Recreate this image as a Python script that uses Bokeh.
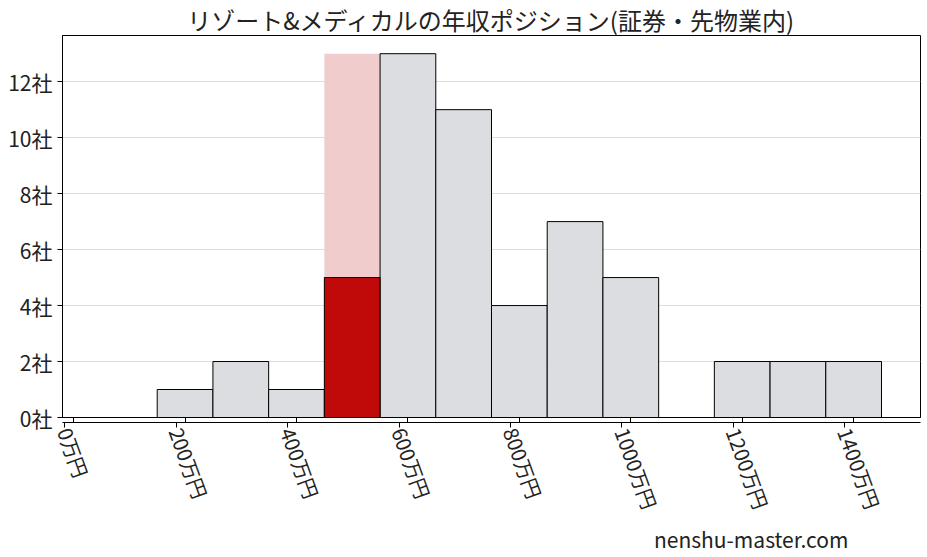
import math
from bokeh.plotting import figure
from bokeh.models import FixedTicker, Title, LinearAxis
from bokeh.embed import file_html
from bokeh.resources import INLINE

# 年収の階級（中央値, 万円）と企業数
bin_centers = [200, 300, 400, 500, 600, 700, 800, 900, 1000, 1100, 1200, 1300, 1400]
counts = [1, 2, 1, 5, 13, 11, 4, 7, 5, 0, 2, 2, 2]
bin_width = 100

# この会社の位置
highlight_center = 500
highlight_top = 13

x_ticks = [0, 200, 400, 600, 800, 1000, 1200, 1400]
y_ticks = [0, 2, 4, 6, 8, 10, 12]

title = "リゾート&メディカルの年収ポジション(証券・先物業内)"
watermark = "nenshu-master.com"
font = "Noto Sans CJK JP"

# 回転ラベルを目盛りの中央に寄せるためのずらし量（データ単位）
label_shift = -16

p = figure(width=922, height=555, output_backend="svg", toolbar_location=None,
           x_range=(-20, 1520), y_range=(0, 13.65), title=title,
           min_border_left=62, min_border_right=2, min_border_top=0,
           min_border_bottom=138)

p.title.text_font = font
p.title.text_font_size = "24px"
p.title.text_font_style = "normal"
p.title.align = "center"
p.title.text_color = "#222222"
p.title.standoff = -2

p.xgrid.grid_line_color = None
p.ygrid.grid_line_color = "#dddddd"
p.ygrid.ticker = FixedTicker(ticks=y_ticks)

p.outline_line_color = "black"
p.outline_line_alpha = 1.0

# 背景のハイライト
p.vbar(x=[highlight_center], width=bin_width, top=[highlight_top], bottom=0,
       fill_color="#f0cccc", line_color=None)

gray_x = [c for c, n in zip(bin_centers, counts) if c != highlight_center and n > 0]
gray_n = [n for c, n in zip(bin_centers, counts) if c != highlight_center and n > 0]
p.vbar(x=gray_x, width=bin_width, top=gray_n, bottom=0,
       fill_color="#dcdde0", line_color="black", line_width=1)

red_n = [n for c, n in zip(bin_centers, counts) if c == highlight_center]
p.vbar(x=[highlight_center], width=bin_width, top=red_n, bottom=0,
       fill_color="#c00a0a", line_color="black", line_width=1)

# 目盛り線だけの軸
p.xaxis.ticker = FixedTicker(ticks=x_ticks)
p.xaxis.major_label_overrides = {t: "" for t in x_ticks}
p.xaxis.major_label_text_font_size = "2px"
p.xaxis.major_label_standoff = 0

# ラベルだけの軸
lab_ticks = [t + label_shift for t in x_ticks]
xlab = LinearAxis(ticker=FixedTicker(ticks=lab_ticks),
                  major_label_overrides={s: f"{t}万円" for s, t in zip(lab_ticks, x_ticks)},
                  major_label_orientation=-70 * math.pi / 180,
                  major_label_standoff=1, major_label_text_font=font,
                  major_label_text_font_size="20px", major_label_text_color="#222222",
                  axis_line_color=None, major_tick_line_color=None,
                  minor_tick_line_color=None, major_tick_in=0, major_tick_out=0)
p.add_layout(xlab, "below")

p.yaxis.ticker = FixedTicker(ticks=y_ticks)
p.yaxis.major_label_overrides = {t: f"{t}社" for t in y_ticks}
p.yaxis.major_label_text_font = font
p.yaxis.major_label_text_font_size = "21px"
p.yaxis.major_label_text_color = "#222222"

for ax in (p.xaxis, p.yaxis):
    ax.axis_line_color = "black"
    ax.major_tick_line_color = "black"
    ax.major_tick_in = 0
    ax.major_tick_out = 5
    ax.minor_tick_line_color = None

p.add_layout(Title(text=watermark, align="right", offset=72, text_font=font,
                   text_font_size="21px", text_font_style="normal",
                   text_color="#222222", standoff=2), "below")

open("out.html", "w").write(file_html(p, INLINE))
